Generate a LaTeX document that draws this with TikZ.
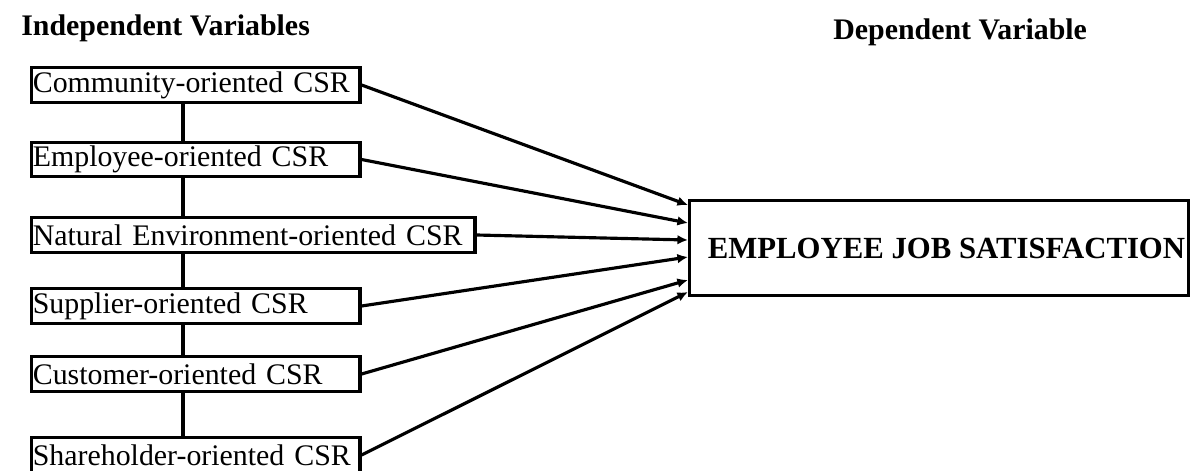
\documentclass[tikz,border=0pt]{standalone}
\usepackage{fontspec}
\setmainfont{Liberation Serif}
\usetikzlibrary{arrows.meta, calc}

\begin{document}
\begin{tikzpicture}[
    x=0.02cm, y=-0.02cm,
    heading/.style={font=\fontsize{17}{19}\selectfont\bfseries, inner sep=0pt},
    factor/.style={draw, line width=1.8pt, fill=white, anchor=west, minimum height=0.69cm, text width=6.51cm, inner xsep=1pt, inner ysep=0pt, align=left, font=\fontsize{17}{20}\selectfont},
    outcome/.style={draw, line width=1.8pt, minimum width=9.98cm, minimum height=1.9cm, inner sep=0pt, font=\fontsize{17.5}{20}\selectfont\bfseries},
    arrow/.style={-{Latex[length=6pt, width=5.5pt]}, line width=1.8pt},
    link/.style={line width=1.8pt}
]
\useasboundingbox (0,0) rectangle (1193,470);

\node[heading, anchor=base west] (indep) at (21,35) {Independent Variables};
\node[heading, anchor=base west] (dep) at (833,39) {Dependent Variable};

\node[factor] (comm) at (29.5,85) {Community-oriented CSR};
\node[factor] (emp) at (29.5,159.5) {Employee-oriented CSR};
\node[factor, text width=8.81cm] (env) at (29.5,235) {Natural Environment-oriented CSR};
\node[factor] (supp) at (29.5,306) {Supplier-oriented CSR};
\node[factor] (cust) at (29.5,374) {Customer-oriented CSR};
\node[factor] (share) at (29.5,455) {Shareholder-oriented CSR};

\node[outcome] (sat) at (939,248) {\hspace{0.3cm}EMPLOYEE JOB SATISFACTION};

% column links
\coordinate (spine) at (183,0);
\draw[link] (comm.south -| spine) -- (emp.north -| spine);
\draw[link] (emp.south -| spine) -- (env.north -| spine);
\draw[link] (env.south -| spine) -- (supp.north -| spine);
\draw[link] (supp.south -| spine) -- (cust.north -| spine);
\draw[link] (cust.south -| spine) -- (share.north -| spine);

\draw[arrow] (comm.east) -- ([yshift=0.86cm]sat.west);
\draw[arrow] (emp.east) -- ([yshift=0.5cm]sat.west);
\draw[arrow] (env.east) -- ([yshift=0.16cm]sat.west);
\draw[arrow] (supp.east) -- ([yshift=-0.18cm]sat.west);
\draw[arrow] (cust.east) -- ([yshift=-0.64cm]sat.west);
\draw[arrow] (share.east) -- ([yshift=-0.88cm]sat.west);
\end{tikzpicture}
\end{document}
